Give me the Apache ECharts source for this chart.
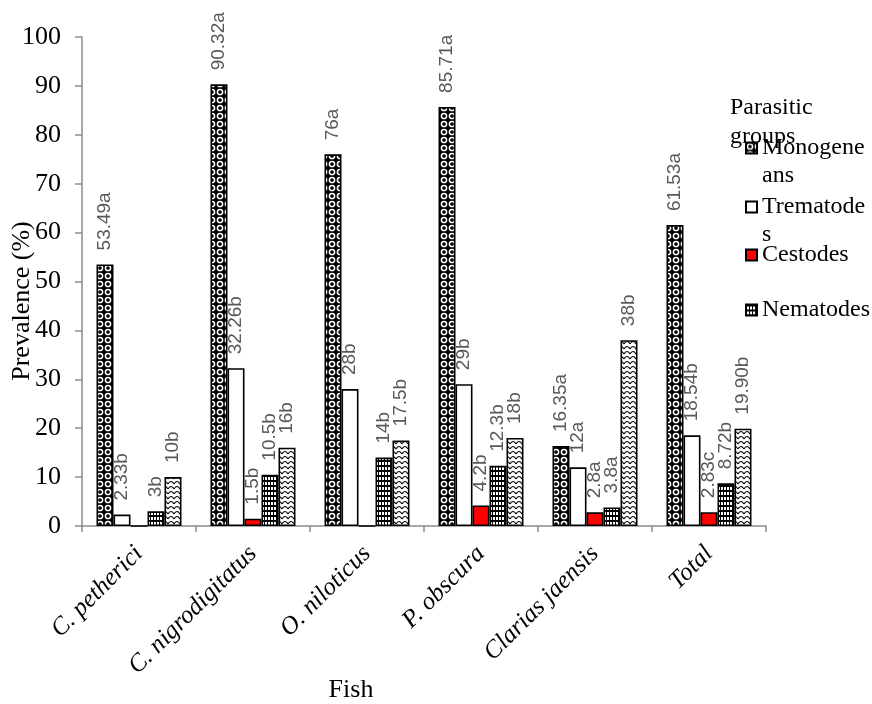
<!DOCTYPE html>
<html>
<head>
<meta charset="utf-8">
<script src="https://cdn.jsdelivr.net/npm/echarts@6/dist/echarts.min.js"></script>
<style>html,body{margin:0;padding:0;background:#fff;}#c{width:872px;height:704px;}</style>
</head>
<body>
<div id="c"></div>
<script>
const categories = ['C. petherici', 'C. nigrodigitatus', 'O. niloticus', 'P. obscura', 'Clarias jaensis', 'Total'];
const seriesNames = ['Monogeneans', 'Trematodes', 'Cestodes', 'Nematodes', 'Others'];
const monogeneans = [53.49, 90.32, 76, 85.71, 16.35, 61.53];
const trematodes = [2.33, 32.26, 28, 29, 12, 18.54];
const cestodes = [0, 1.5, 0, 4.2, 2.8, 2.83];
const nematodes = [3, 10.5, 14, 12.3, 3.8, 8.72];
const others = [10, 16, 17.5, 18, 38, 19.90];
const monoLabels = ['53.49a', '90.32a', '76a', '85.71a', '16.35a', '61.53a'];
const tremLabels = ['2.33b', '32.26b', '28b', '29b', '12a', '18.54b'];
const cestLabels = ['', '1.5b', '', '4.2b', '2.8a', '2.83c'];
const nemaLabels = ['3b', '10.5b', '14b', '12.3b', '3.8a', '8.72b'];
const otherLabels = ['10b', '16b', '17.5b', '18b', '38b', '19.90b'];
const yTicks = [0, 10, 20, 30, 40, 50, 60, 70, 80, 90, 100];

function tile(w, h, draw) {
  const c = document.createElement('canvas');
  c.width = w; c.height = h;
  const ctx = c.getContext('2d');
  draw(ctx);
  return { image: c, repeat: 'repeat' };
}
const monoPattern = tile(8, 8, ctx => {
  ctx.fillStyle = '#000'; ctx.fillRect(0, 0, 8, 8);
  ctx.strokeStyle = '#fff'; ctx.lineWidth = 1.5;
  ctx.beginPath(); ctx.arc(4, 4, 2.6, 0, Math.PI * 2); ctx.stroke();
});
const nemaPattern = tile(3, 5, ctx => {
  ctx.fillStyle = '#fff'; ctx.fillRect(0, 0, 3, 5);
  ctx.fillStyle = '#000'; ctx.fillRect(0, 0, 3, 2); ctx.fillRect(0, 2, 1, 3);
});
const wavePattern = tile(6, 5, ctx => {
  ctx.fillStyle = '#fff'; ctx.fillRect(0, 0, 6, 5);
  ctx.strokeStyle = '#000'; ctx.lineWidth = 1.2;
  ctx.beginPath(); ctx.moveTo(0, 4); ctx.quadraticCurveTo(3, -1, 6, 4); ctx.stroke();
});

const colors = [monoPattern, '#ffffff', '#ff0000', nemaPattern, wavePattern];
const values = [monogeneans, trematodes, cestodes, nematodes, others];
const labels = [monoLabels, tremLabels, cestLabels, nemaLabels, otherLabels];

const serif = 'Liberation Serif';
const series = seriesNames.map((n, i) => ({
  name: n,
  type: 'bar',
  data: values[i],
  barWidth: 17,
  barGap: '0%',
  itemStyle: { color: colors[i], borderColor: '#000', borderWidth: 1.6 },
  label: {
    show: true,
    position: 'top',
    rotate: 90,
    align: 'left',
    verticalAlign: 'middle',
    distance: 14,
    color: '#595959',
    fontFamily: 'Liberation Sans',
    fontSize: 19,
    formatter: p => labels[i][p.dataIndex]
  }
}));

function legendFor(name, display, top) {
  return {
    show: true,
    selectedMode: false,
    orient: 'vertical',
    left: 745,
    top: top,
    padding: 0,
    itemWidth: 11,
    itemHeight: 11,
    itemGap: 0,
    icon: 'rect',
    itemStyle: { borderColor: '#000', borderWidth: 2 },
    formatter: () => display,
    textStyle: { fontFamily: serif, fontSize: 24, color: '#000', lineHeight: 28 },
    data: [name]
  };
}

const chart = echarts.init(document.getElementById('c'), null, { renderer: 'canvas' });
chart.setOption({
  animation: false,
  backgroundColor: '#fff',
  title: {
    text: 'Parasitic\ngroups',
    left: 725, top: 88,
    textStyle: { fontFamily: serif, fontSize: 24, fontWeight: 'normal', color: '#000', lineHeight: 29 }
  },
  legend: [
    legendFor('Monogeneans', '\nMonogene\nans', 106),
    legendFor('Trematodes', '\nTrematode\ns', 165),
    legendFor('Cestodes', 'Cestodes', 241),
    legendFor('Nematodes', 'Nematodes', 296)
  ],
  grid: { left: 82, right: 106, top: 37, bottom: 178, containLabel: false },
  xAxis: {
    type: 'category',
    data: categories,
    axisLine: { lineStyle: { color: '#8c8c8c', width: 1.5 } },
    axisTick: { show: true, length: 6, lineStyle: { color: '#8c8c8c', width: 1.5 } },
    axisLabel: {
      rotate: 45, margin: 24, interval: 0,
      fontFamily: serif, fontStyle: 'italic', fontSize: 25, color: '#000'
    }
  },
  yAxis: {
    type: 'value',
    min: yTicks[0], max: yTicks[yTicks.length - 1], interval: 10,
    splitLine: { show: false },
    axisLine: { show: true, lineStyle: { color: '#8c8c8c', width: 1.5 } },
    axisTick: { show: true, length: 7, lineStyle: { color: '#8c8c8c', width: 1.5 } },
    axisLabel: { margin: 21, fontFamily: serif, fontSize: 26, color: '#000' }
  },
  graphic: [
    { type: 'text', x: 22, y: 301, rotation: Math.PI / 2,
      style: { text: 'Prevalence (%)', font: '26px "Liberation Serif"', fill: '#000', align: 'center', verticalAlign: 'middle' } },
    { type: 'text', x: 351, y: 690,
      style: { text: 'Fish', font: '26px "Liberation Serif"', fill: '#000', align: 'center', verticalAlign: 'middle' } }
  ],
  series: series
});
</script>
</body>
</html>
